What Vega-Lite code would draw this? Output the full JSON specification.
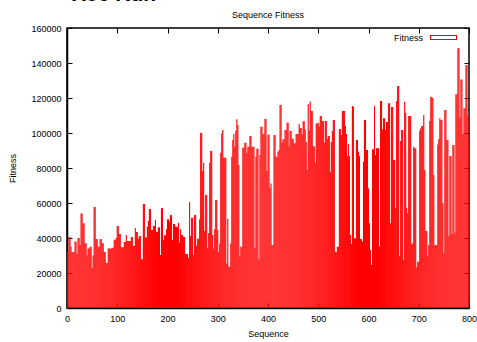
{
"$schema": "https://vega.github.io/schema/vega-lite/v6.json",
"width": 402,
"height": 280,
"autosize": {"type": "none"},
"padding": {"left": 67, "top": 28, "right": 8, "bottom": 34},
"background": "white",
"config": {
  "view": {"stroke": "black", "strokeWidth": 1.5},
  "font": "Liberation Sans",
  "axis": {"labelFont": "Liberation Sans", "labelFontSize": 9, "labelColor": "black", "titleFont": "Liberation Sans", "titleFontSize": 9, "titleFontWeight": "normal", "titleColor": "black", "tickColor": "black", "domainColor": "black", "domainWidth": 1.5, "grid": false, "tickSize": -5, "tickWidth": 1}
},
"title": {"text": "Sequence Fitness", "fontSize": 9, "fontWeight": "normal", "font": "Liberation Sans", "color": "black", "anchor": "middle", "baseline": "bottom", "offset": -45},
"layer": [
 {
  "data": {"values": [
{"s":0,"f":32000},{"s":2,"f":32000},{"s":4,"f":40600},{"s":6,"f":40600},{"s":8,"f":35000},{"s":10,"f":32000},{"s":12,"f":32000},{"s":14,"f":32000},{"s":16,"f":38000},{"s":18,"f":38000},
{"s":20,"f":31000},{"s":22,"f":40000},{"s":24,"f":40000},{"s":26,"f":36000},{"s":28,"f":54000},{"s":30,"f":54000},{"s":32,"f":48500},{"s":34,"f":48500},{"s":36,"f":37000},{"s":38,"f":37000},
{"s":40,"f":30000},{"s":42,"f":34000},{"s":44,"f":34000},{"s":46,"f":35000},{"s":48,"f":35000},{"s":50,"f":23000},{"s":52,"f":30000},{"s":54,"f":57700},{"s":56,"f":57700},{"s":58,"f":39400},
{"s":60,"f":39400},{"s":62,"f":35000},{"s":64,"f":35000},{"s":66,"f":39500},{"s":68,"f":39500},{"s":70,"f":37000},{"s":72,"f":37000},{"s":74,"f":32000},{"s":76,"f":32000},{"s":78,"f":25700},
{"s":80,"f":25700},{"s":82,"f":34000},{"s":84,"f":34000},{"s":86,"f":34000},{"s":88,"f":34000},{"s":90,"f":34500},{"s":92,"f":34500},{"s":94,"f":39000},{"s":96,"f":39000},{"s":98,"f":40000},
{"s":100,"f":46900},{"s":102,"f":46900},{"s":104,"f":42300},{"s":106,"f":42300},{"s":108,"f":34700},{"s":110,"f":34700},{"s":112,"f":34700},{"s":114,"f":37700},{"s":116,"f":37700},{"s":118,"f":41700},
{"s":120,"f":38300},{"s":122,"f":38300},{"s":124,"f":38300},{"s":126,"f":38300},{"s":128,"f":40600},{"s":130,"f":40600},{"s":132,"f":35600},{"s":134,"f":35600},{"s":136,"f":45700},{"s":138,"f":43400},
{"s":140,"f":43400},{"s":142,"f":39600},{"s":144,"f":41100},{"s":146,"f":41100},{"s":148,"f":27800},{"s":150,"f":27800},{"s":152,"f":59400},{"s":154,"f":59400},{"s":156,"f":40300},{"s":158,"f":40300},
{"s":160,"f":46500},{"s":162,"f":49700},{"s":164,"f":56600},{"s":166,"f":56600},{"s":168,"f":44600},{"s":170,"f":44600},{"s":172,"f":46900},{"s":174,"f":46900},{"s":176,"f":50300},{"s":178,"f":43600},
{"s":180,"f":43600},{"s":182,"f":46100},{"s":184,"f":46100},{"s":186,"f":30300},{"s":188,"f":57100},{"s":190,"f":57100},{"s":192,"f":38900},{"s":194,"f":41500},{"s":196,"f":41500},{"s":198,"f":45000},
{"s":200,"f":50700},{"s":202,"f":50700},{"s":204,"f":49300},{"s":206,"f":53100},{"s":208,"f":53100},{"s":210,"f":38900},{"s":212,"f":48000},{"s":214,"f":48000},{"s":216,"f":46500},{"s":218,"f":46500},
{"s":220,"f":46100},{"s":222,"f":48600},{"s":224,"f":37300},{"s":226,"f":45000},{"s":228,"f":41700},{"s":230,"f":41700},{"s":232,"f":40600},{"s":234,"f":40600},{"s":236,"f":30900},{"s":238,"f":30900},
{"s":240,"f":30900},{"s":242,"f":28600},{"s":244,"f":60600},{"s":246,"f":41100},{"s":248,"f":51600},{"s":250,"f":51600},{"s":252,"f":30300},{"s":254,"f":53100},{"s":256,"f":53100},{"s":258,"f":35600},
{"s":260,"f":39600},{"s":262,"f":39600},{"s":264,"f":50700},{"s":266,"f":100000},{"s":268,"f":100000},{"s":270,"f":78300},{"s":272,"f":83000},{"s":274,"f":44000},{"s":276,"f":64600},{"s":278,"f":64600},
{"s":280,"f":34300},{"s":282,"f":42800},{"s":284,"f":83000},{"s":286,"f":89700},{"s":288,"f":89700},{"s":290,"f":41700},{"s":292,"f":34000},{"s":294,"f":45000},{"s":296,"f":61700},{"s":298,"f":61700},
{"s":300,"f":44600},{"s":302,"f":32200},{"s":304,"f":36900},{"s":306,"f":88700},{"s":308,"f":99800},{"s":310,"f":101700},{"s":312,"f":85900},{"s":314,"f":85900},{"s":316,"f":85900},{"s":318,"f":25500},
{"s":320,"f":51000},{"s":322,"f":23600},{"s":324,"f":23600},{"s":326,"f":36900},{"s":328,"f":86500},{"s":330,"f":96000},{"s":332,"f":99400},{"s":334,"f":92200},{"s":336,"f":101300},{"s":338,"f":107800},
{"s":340,"f":104600},{"s":342,"f":81700},{"s":344,"f":29700},{"s":346,"f":35000},{"s":348,"f":35000},{"s":350,"f":91600},{"s":352,"f":91600},{"s":354,"f":94500},{"s":356,"f":94500},{"s":358,"f":88700},
{"s":360,"f":92200},{"s":362,"f":92200},{"s":364,"f":98300},{"s":366,"f":98300},{"s":368,"f":92200},{"s":370,"f":92200},{"s":372,"f":92200},{"s":374,"f":34100},{"s":376,"f":86500},{"s":378,"f":91000},
{"s":380,"f":91000},{"s":382,"f":27800},{"s":384,"f":87400},{"s":386,"f":103600},{"s":388,"f":103600},{"s":390,"f":99400},{"s":392,"f":99400},{"s":394,"f":108000},{"s":396,"f":108000},{"s":398,"f":78300},
{"s":400,"f":99000},{"s":402,"f":99000},{"s":404,"f":68400},{"s":406,"f":71200},{"s":408,"f":36000},{"s":410,"f":36000},{"s":412,"f":98900},{"s":414,"f":98900},{"s":416,"f":86500},{"s":418,"f":86500},
{"s":420,"f":89300},{"s":422,"f":90300},{"s":424,"f":116000},{"s":426,"f":116000},{"s":428,"f":94500},{"s":430,"f":96400},{"s":432,"f":96400},{"s":434,"f":101700},{"s":436,"f":101700},{"s":438,"f":105900},
{"s":440,"f":105900},{"s":442,"f":92200},{"s":444,"f":101100},{"s":446,"f":101100},{"s":448,"f":96700},{"s":450,"f":96700},{"s":452,"f":94100},{"s":454,"f":94100},{"s":456,"f":99400},{"s":458,"f":99400},
{"s":460,"f":99400},{"s":462,"f":105100},{"s":464,"f":102900},{"s":466,"f":102900},{"s":468,"f":99200},{"s":470,"f":106700},{"s":472,"f":106700},{"s":474,"f":102100},{"s":476,"f":94900},{"s":478,"f":78900},
{"s":480,"f":116600},{"s":482,"f":101300},{"s":484,"f":118000},{"s":486,"f":112600},{"s":488,"f":112600},{"s":490,"f":92500},{"s":492,"f":92500},{"s":494,"f":83000},{"s":496,"f":105500},{"s":498,"f":105500},
{"s":500,"f":105900},{"s":502,"f":103600},{"s":504,"f":109700},{"s":506,"f":109700},{"s":508,"f":106900},{"s":510,"f":106900},{"s":512,"f":94500},{"s":514,"f":106900},{"s":516,"f":106900},{"s":518,"f":96400},
{"s":520,"f":98300},{"s":522,"f":98300},{"s":524,"f":77700},{"s":526,"f":94900},{"s":528,"f":101100},{"s":530,"f":107400},{"s":532,"f":107400},{"s":534,"f":32200},{"s":536,"f":32000},{"s":538,"f":35000},
{"s":540,"f":35000},{"s":542,"f":102300},{"s":544,"f":102300},{"s":546,"f":98900},{"s":548,"f":112600},{"s":550,"f":112600},{"s":552,"f":112600},{"s":554,"f":104000},{"s":556,"f":99400},{"s":558,"f":86800},
{"s":560,"f":93700},{"s":562,"f":86800},{"s":564,"f":41700},{"s":566,"f":36600},{"s":568,"f":115400},{"s":570,"f":115000},{"s":572,"f":39800},{"s":574,"f":39800},{"s":576,"f":96000},{"s":578,"f":96000},
{"s":580,"f":89300},{"s":582,"f":86800},{"s":584,"f":39400},{"s":586,"f":39400},{"s":588,"f":38000},{"s":590,"f":83600},{"s":592,"f":107400},{"s":594,"f":107400},{"s":596,"f":90300},{"s":598,"f":90300},
{"s":600,"f":68400},{"s":602,"f":48500},{"s":604,"f":33100},{"s":606,"f":24600},{"s":608,"f":90700},{"s":610,"f":90700},{"s":612,"f":115400},{"s":614,"f":87400},{"s":616,"f":91300},{"s":618,"f":91300},
{"s":620,"f":91300},{"s":622,"f":35000},{"s":624,"f":118300},{"s":626,"f":118300},{"s":628,"f":102100},{"s":630,"f":108400},{"s":632,"f":108400},{"s":634,"f":101700},{"s":636,"f":106300},{"s":638,"f":106300},
{"s":640,"f":117000},{"s":642,"f":117000},{"s":644,"f":48500},{"s":646,"f":114900},{"s":648,"f":114900},{"s":650,"f":84600},{"s":652,"f":84600},{"s":654,"f":57000},{"s":656,"f":118300},{"s":658,"f":126900},
{"s":660,"f":126900},{"s":662,"f":29700},{"s":664,"f":95400},{"s":666,"f":101700},{"s":668,"f":101700},{"s":670,"f":27400},{"s":672,"f":117900},{"s":674,"f":111600},{"s":676,"f":57300},{"s":678,"f":54100},
{"s":680,"f":109700},{"s":682,"f":109700},{"s":684,"f":109700},{"s":686,"f":36400},{"s":688,"f":37000},{"s":690,"f":92200},{"s":692,"f":91300},{"s":694,"f":91300},{"s":696,"f":23300},{"s":698,"f":26400},
{"s":700,"f":26400},{"s":702,"f":101300},{"s":704,"f":102700},{"s":706,"f":104000},{"s":708,"f":104000},{"s":710,"f":110300},{"s":712,"f":78900},{"s":714,"f":44000},{"s":716,"f":44000},{"s":718,"f":29700},
{"s":720,"f":36000},{"s":722,"f":106900},{"s":724,"f":120700},{"s":726,"f":120500},{"s":728,"f":120000},{"s":730,"f":76000},{"s":732,"f":36000},{"s":734,"f":36000},{"s":736,"f":36000},{"s":738,"f":93500},
{"s":740,"f":96600},{"s":742,"f":108400},{"s":744,"f":107400},{"s":746,"f":107400},{"s":748,"f":59800},{"s":750,"f":31200},{"s":752,"f":113100},{"s":754,"f":113100},{"s":756,"f":96000},{"s":758,"f":96000},
{"s":760,"f":41100},{"s":762,"f":86800},{"s":764,"f":86800},{"s":766,"f":42300},{"s":768,"f":93100},{"s":770,"f":93100},{"s":772,"f":43000},{"s":774,"f":122100},{"s":776,"f":122100},{"s":778,"f":148400},
{"s":780,"f":148400},{"s":782,"f":108900},{"s":784,"f":130600},{"s":786,"f":130600},{"s":788,"f":99400},{"s":790,"f":114100},{"s":792,"f":114100},{"s":794,"f":138900},{"s":796,"f":138900},{"s":798,"f":110100},
{"s":800,"f":96000}
  ]},
  "mark": {"type": "bar", "width": 1.1, "clip": true},
  "encoding": {
    "x": {"field": "s", "type": "quantitative", "scale": {"domain": [0, 800], "nice": false, "zero": false, "padding": 0},
          "axis": {"values": [0,100,200,300,400,500,600,700,800], "title": "Sequence", "labelPadding": 11, "titlePadding": 6, "labelFlush": false}},
    "y": {"field": "f", "type": "quantitative", "scale": {"domain": [0, 160000], "nice": false},
          "axis": {"values": [0,20000,40000,60000,80000,100000,120000,140000,160000], "format": "d", "title": "Fitness", "labelPadding": 11, "titlePadding": 13, "labelFlush": false}},
    "color": {"datum": "Fitness", "type": "nominal", "scale": {"range": ["#ff0000"]},
              "legend": {"title": null, "orient": "none", "legendX": 363, "legendY": -4, "padding": 0,
                         "symbolType": "M-1,-0.18H1V0.18H-1Z M-0.926,-0.106V0.106H0.926V-0.106Z", "symbolSize": 729, "symbolStrokeWidth": 0,
                         "labelAlign": "right", "labelOffset": -34, "labelFont": "Liberation Sans", "labelFontSize": 9, "labelColor": "black"}}
  }
 },
 {
  "data": {"values": [{"label": "X86 Run"}]},
  "mark": {"type": "text", "align": "left", "baseline": "alphabetic", "fontSize": 21, "fontWeight": "bold", "font": "Liberation Sans", "color": "black"},
  "encoding": {
    "x": {"datum": 10, "type": "quantitative", "scale": {"domain": [0, 800], "nice": false, "zero": false, "padding": 0},
          "axis": {"orient": "top", "values": [0,100,200,300,400,500,600,700,800], "labels": false, "title": null, "domain": false}},
    "y": {"datum": 175500, "type": "quantitative", "scale": {"domain": [0, 160000], "nice": false},
          "axis": {"orient": "right", "values": [0,20000,40000,60000,80000,100000,120000,140000,160000], "labels": false, "title": null, "domain": false}},
    "text": {"field": "label"}
  }
 }
],
"resolve": {"axis": {"x": "independent", "y": "independent"}}
}
